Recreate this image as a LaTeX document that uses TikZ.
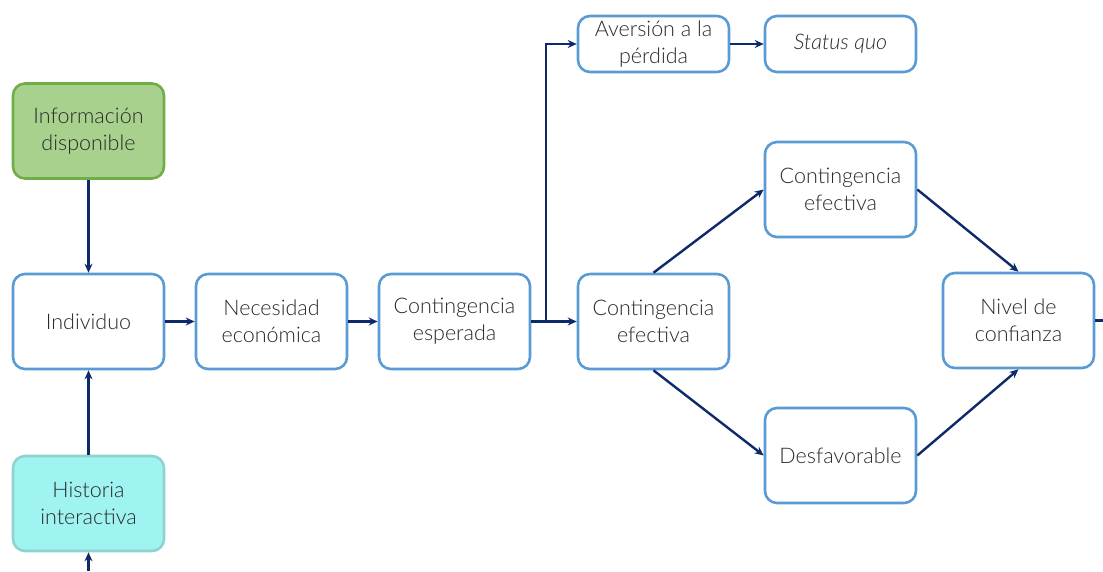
\documentclass[tikz,border=0pt]{standalone}
\usepackage{fontspec}
\IfFontExistsTF{Lato Light}{\setmainfont{Lato Light}[ItalicFont={Lato Light Italic}]}{\setmainfont{Open Sans}}
\usetikzlibrary{arrows.meta}
\definecolor{bord}{HTML}{5B9BD5}
\definecolor{arr}{HTML}{0E2A6B}
\definecolor{gfill}{HTML}{A9D18E}
\definecolor{gbord}{HTML}{70AD47}
\definecolor{tfill}{HTML}{9FF3F1}
\definecolor{tbord}{HTML}{8FD3D1}
\definecolor{txt}{HTML}{2A2A2A}
\begin{document}
\begin{tikzpicture}[x=1pt,y=-1pt,
  box/.style={draw=bord, line width=2.6pt, fill=white, rounded corners=12pt, minimum width=151pt, minimum height=95pt, align=center, inner sep=0pt, font=\fontsize{21.5}{27}\selectfont, text=txt},
  sbox/.style={box, minimum height=56pt},
  gbox/.style={box, draw=gbord, fill=gfill},
  tbox/.style={box, draw=tbord, fill=tfill},
  conn/.style={draw=arr, line width=2.4pt, -{Stealth[length=9pt,width=8pt]}},
  plain/.style={draw=arr, line width=2.4pt}]
\useasboundingbox (0,0) rectangle (1103,571);
\node[gbox] (info) at (88.5,131) {Información\\disponible};
\node[box] (ind) at (88.5,321.5) {Individuo};
\node[tbox] (hist) at (88.5,503.5) {Historia\\interactiva};
\node[box] (nec) at (271.5,321.5) {Necesidad\\económica};
\node[box] (cesp) at (454.5,321.5) {Contingencia\\esperada};
\node[box] (cef) at (653.5,321.5) {Contingencia\\efectiva};
\node[sbox] (av) at (653.5,44) {Aversión a la\\pérdida};
\node[sbox] (sq) at (840.5,44) {\itshape Status quo};
\node[box] (cef2) at (840.5,189.5) {Contingencia\\efectiva};
\node[box] (des) at (840.5,455.5) {Desfavorable};
\node[box] (niv) at (1018.5,320.5) {Nivel de\\confianza};
\coordinate (bot) at (88.5,571);
\coordinate (br) at (546,321.5);
\coordinate (out) at (1103,320.5);
\draw[conn] (info) -- (ind);
\draw[conn] (bot) -- (hist);
\draw[conn] (hist) -- (ind);
\draw[conn] (ind) -- (nec);
\draw[conn] (nec) -- (cesp);
\draw[conn] (cesp) -- (cef);
\draw[conn] (br) |- (av);
\draw[conn] (av) -- (sq);
\draw[conn] (cef.north) -- (cef2.west);
\draw[conn] (cef.south) -- (des.west);
\draw[conn] (cef2.east) -- (niv.north);
\draw[conn] (des.east) -- (niv.south);
\draw[plain] (niv) -- (out);
\end{tikzpicture}
\end{document}
